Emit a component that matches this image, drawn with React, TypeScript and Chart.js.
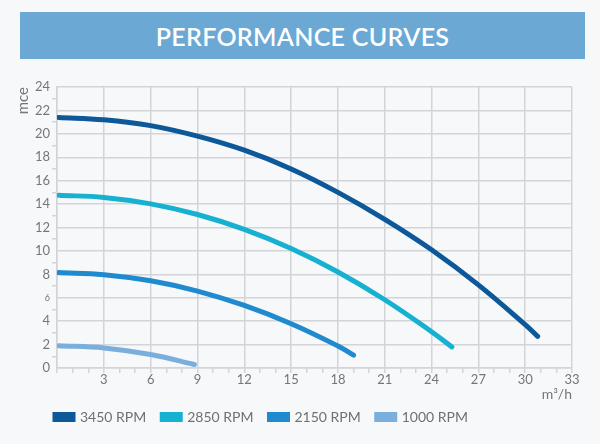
import React, { useEffect, useRef } from "react";
import { Chart, registerables } from "chart.js";

Chart.register(...registerables);

const seriesLabels = ["3450 RPM", "2850 RPM", "2150 RPM", "1000 RPM"];
const seriesColors = ["#0c5898", "#16b1d1", "#1f8ace", "#79aedd"];

const flow3450 = [0.1, 3, 6, 9, 12, 15, 18, 21, 24, 27, 30, 30.8];
const head3450 = [21.4, 21.2, 20.7, 19.8, 18.6, 17.0, 15.0, 12.7, 10.1, 7.1, 3.7, 2.7];

const flow2850 = [0.1, 3, 6, 9, 12, 15, 18, 21, 24, 25.3];
const head2850 = [14.75, 14.57, 14.02, 13.11, 11.84, 10.2, 8.2, 5.83, 3.1, 1.8];

const flow2150 = [0.1, 3, 6, 9, 12, 15, 18, 19];
const head2150 = [8.15, 7.97, 7.45, 6.57, 5.34, 3.78, 1.88, 1.1];

const flow1000 = [0.1, 3, 6, 8.8];
const head1000 = [1.9, 1.71, 1.15, 0.3];

const xTickValues = [3, 6, 9, 12, 15, 18, 21, 24, 27, 30, 33];
const yTickValues = [0, 2, 4, 6, 8, 10, 12, 14, 16, 18, 20, 22, 24];

const FONT = "Lato, 'Open Sans', sans-serif";
const GRID = "#d3d4d8";
const TEXT = "#75767b";

function pts(xs: number[], ys: number[]) {
  return xs.map((x, i) => ({ x, y: ys[i] }));
}

export default function App() {
  const ref = useRef<HTMLCanvasElement | null>(null);

  useEffect(() => {
    document.body.style.margin = "0";
    document.body.style.background = "#f7f8fa";
    const canvas = ref.current;
    if (!canvas) return;
    const data = [
      pts(flow3450, head3450),
      pts(flow2850, head2850),
      pts(flow2150, head2150),
      pts(flow1000, head1000),
    ];
    const legendShift = {
      id: "legendShift",
      afterLayout(chart: any) {
        const lg = chart.legend;
        if (!lg) return;
        const pad = lg.options.labels.padding || 0;
        const dx = 55 - (lg.left + pad);
        lg.left += dx;
        lg.right += dx;
        lg.top -= 7;
        lg.bottom -= 7;
      },
    };
    const chart = new Chart(canvas, {
      type: "line",
      data: {
        datasets: data.map((d, i) => ({
          label: seriesLabels[i],
          data: d,
          borderColor: seriesColors[i],
          backgroundColor: seriesColors[i],
          borderWidth: 5,
          borderCapStyle: "round",
          pointRadius: 0,
          tension: 0.4,
          fill: false,
        })),
      },
      options: {
        animation: false,
        responsive: false,
        layout: { padding: { top: 87, left: 14, right: 28, bottom: 3 } },
        scales: {
          x: {
            type: "linear",
            min: 0,
            max: 33,
            ticks: {
              stepSize: 1,
              autoSkip: false,
              maxRotation: 0,
              padding: 0,
              color: TEXT,
              font: { family: FONT, size: 13, lineHeight: 1 },
              callback: (v: any) =>
                xTickValues.includes(Number(v)) ? String(v) : "",
            },
            grid: {
              color: (c: any) =>
                c.tick && c.tick.value % 3 === 0 ? GRID : "rgba(0,0,0,0)",
              lineWidth: 1.5,
              tickColor: GRID,
              tickLength: 5,
            },
            border: { color: GRID, width: 1.5 },
            title: {
              display: true,
              text: "m³/h",
              align: "end",
              color: TEXT,
              font: { family: FONT, size: 14, lineHeight: 1 },
              padding: { top: 1, bottom: 0 },
            },
          },
          y: {
            type: "linear",
            min: 0,
            max: 24,
            ticks: {
              stepSize: 1,
              autoSkip: false,
              padding: 2,
              color: TEXT,
              font: (c: any) => ({
                family: FONT,
                size: c.tick && c.tick.value === 6 ? 9 : 13,
              }),
              callback: (v: any) =>
                yTickValues.includes(Number(v)) ? String(v) : "",
            },
            grid: {
              color: (c: any) =>
                c.tick && c.tick.value % 2 === 0 ? GRID : "rgba(0,0,0,0)",
              lineWidth: 1.5,
              tickColor: (c: any) =>
                c.tick && c.tick.value % 2 === 0 ? "rgba(0,0,0,0)" : GRID,
              tickLength: 5,
            },
            border: { color: GRID, width: 1.5 },
            title: {
              display: true,
              text: "mce",
              align: "end",
              color: TEXT,
              font: { family: FONT, size: 15 },
              padding: { top: 0, bottom: 1 },
            },
          },
        },
        plugins: {
          legend: {
            position: "bottom",
            align: "start",
            labels: {
              boxWidth: 18,
              boxHeight: 5,
              padding: 16,
              color: "#6e7075",
              font: { family: FONT, size: 14 },
            },
          },
          tooltip: { enabled: false },
        },
      } as any,
      plugins: [legendShift],
    });
    return () => chart.destroy();
  }, []);

  return (
    <div style={{ position: "relative", width: 600, height: 444, background: "#f7f8fa" }}>
      <canvas ref={ref} width={600} height={444} style={{ position: "absolute", left: 0, top: 0 }} />
      <div
        style={{
          position: "absolute",
          left: 20,
          top: 12,
          width: 565,
          height: 47,
          background: "#6ba8d4",
          color: "#ffffff",
          fontFamily: FONT,
          fontSize: 25,
          fontWeight: 600,
          display: "flex",
          alignItems: "center",
          justifyContent: "center",
          letterSpacing: 0.3,
        }}
      >
        PERFORMANCE CURVES
      </div>
    </div>
  );
}
